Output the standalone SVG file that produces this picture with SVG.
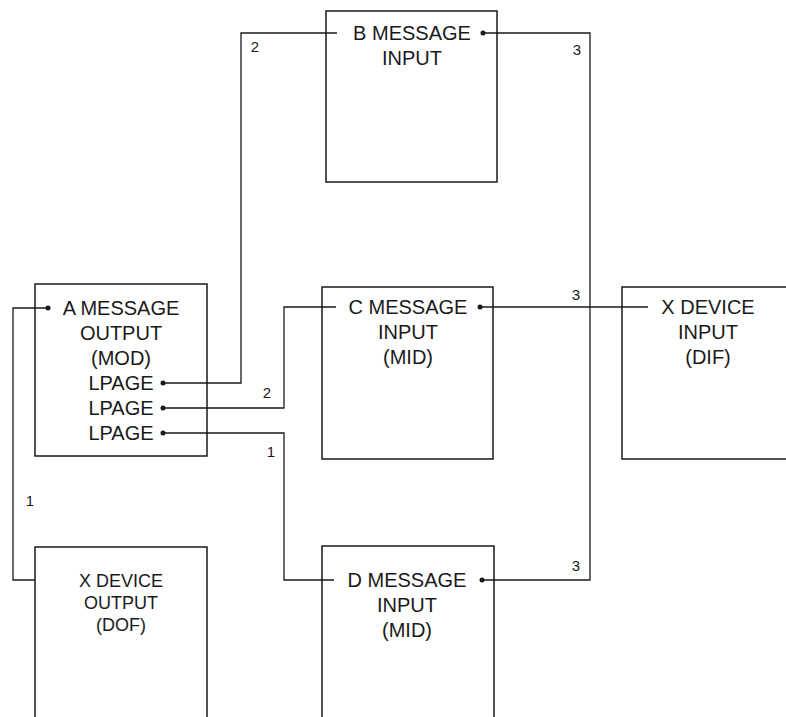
<svg xmlns="http://www.w3.org/2000/svg" width="786" height="717" viewBox="0 0 786 717">
<style>
  .box{fill:#fff;stroke:#1a1a1a;stroke-width:1.5}
  .open{fill:none;stroke:#1a1a1a;stroke-width:1.5}
  .t{font-family:"Liberation Sans",Arial,sans-serif;font-size:20px;fill:#1a1a1a;text-anchor:middle}
  .ts{font-family:"Liberation Sans",Arial,sans-serif;font-size:18px;fill:#1a1a1a;text-anchor:middle}
  .n{font-family:"Liberation Sans",Arial,sans-serif;font-size:15px;fill:#1a1a1a;text-anchor:middle}
  .w{fill:none;stroke:#1a1a1a;stroke-width:1.3}
  .dot{fill:#1a1a1a}
</style>
<rect width="786" height="717" fill="#fff"/>
<g id="node-b">
  <rect class="box" x="326" y="11" width="171" height="171"/>
  <text class="t" x="412" y="40">B MESSAGE</text>
  <text class="t" x="412" y="65">INPUT</text>
</g>
<g id="node-a">
  <rect class="box" x="35" y="284" width="172" height="172"/>
  <text class="t" x="121" y="315">A MESSAGE</text>
  <text class="t" x="121" y="340">OUTPUT</text>
  <text class="t" x="121" y="365">(MOD)</text>
  <text class="t" x="121" y="390">LPAGE</text>
  <text class="t" x="121" y="415">LPAGE</text>
  <text class="t" x="121" y="440">LPAGE</text>
</g>
<g id="node-c">
  <rect class="box" x="322" y="287" width="171" height="172"/>
  <text class="t" x="408" y="314">C MESSAGE</text>
  <text class="t" x="408" y="339">INPUT</text>
  <text class="t" x="408" y="364">(MID)</text>
</g>
<g id="node-xdi">
  <rect class="box" x="622" y="287" width="180" height="172"/>
  <text class="t" x="708" y="314">X DEVICE</text>
  <text class="t" x="708" y="339">INPUT</text>
  <text class="t" x="708" y="364">(DIF)</text>
</g>
<g id="node-dof">
  <path class="open" d="M35 720 V547 H207 V720"/>
  <text class="ts" x="121" y="587">X DEVICE</text>
  <text class="ts" x="121" y="609">OUTPUT</text>
  <text class="ts" x="121" y="631">(DOF)</text>
</g>
<g id="node-d">
  <path class="open" d="M322 720 V546 H494 V720"/>
  <text class="t" x="407" y="587">D MESSAGE</text>
  <text class="t" x="407" y="612">INPUT</text>
  <text class="t" x="407" y="637">(MID)</text>
</g>
<g id="connectors">
  <path class="w" d="M48 308 H13 V580 H35"/>
  <path class="w" d="M163 383 H241 V33 H337"/>
  <path class="w" d="M163 408 H284 V307 H336"/>
  <path class="w" d="M163 433 H284 V580 H334"/>
  <path class="w" d="M483 33 H590 V580 H482"/>
  <path class="w" d="M480 307 H648"/>
  <circle class="dot" cx="48" cy="308" r="2.5"/>
  <circle class="dot" cx="163" cy="383" r="2.5"/>
  <circle class="dot" cx="163" cy="408" r="2.5"/>
  <circle class="dot" cx="163" cy="433" r="2.5"/>
  <circle class="dot" cx="483" cy="33" r="2.5"/>
  <circle class="dot" cx="480" cy="307" r="2.5"/>
  <circle class="dot" cx="482" cy="580" r="2.5"/>
  <text class="n" x="255" y="52">2</text>
  <text class="n" x="577" y="55">3</text>
  <text class="n" x="576" y="300">3</text>
  <text class="n" x="267" y="398">2</text>
  <text class="n" x="271" y="457">1</text>
  <text class="n" x="30" y="506">1</text>
  <text class="n" x="576" y="571">3</text>
</g>
</svg>
